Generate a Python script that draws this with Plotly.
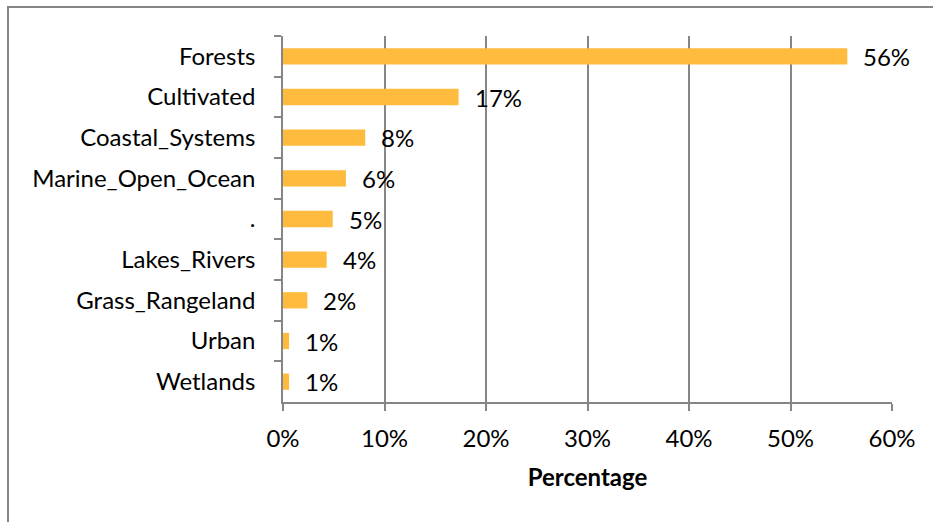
import plotly.graph_objects as go

# Share of total by ecosystem type (fractions)
categories = ["Forests", "Cultivated", "Coastal_Systems", "Marine_Open_Ocean", ".",
              "Lakes_Rivers", "Grass_Rangeland", "Urban", "Wetlands"]
shares = [0.556, 0.173, 0.081, 0.062, 0.049, 0.043, 0.024, 0.006, 0.006]
x_ticks = [0, 0.1, 0.2, 0.3, 0.4, 0.5, 0.6]

FONT = "Lato, Carlito, Calibri, sans-serif"
FS = 24
GRID = "#868686"
BAR = "#FFBB3D"

fig = go.Figure(go.Bar(
    x=shares, y=categories, orientation="h",
    marker=dict(color=BAR, line=dict(width=0)),
    width=0.4, hoverinfo="skip",
))

# value labels just right of each bar end
for cat, v in zip(categories, shares):
    fig.add_annotation(x=v, y=cat, xref="x", yref="y", text=f"{round(v * 100)}%",
                       showarrow=False, xanchor="left", yanchor="middle", xshift=14,
                       font=dict(family=FONT, size=FS, color="#000000"))

# outer chart frame
W, H = 933, 522
L, R, T, B = 283, 41, 36, 120
pw, ph = W - L - R, H - T - B
def px_x(p): return (p - L) / pw
def px_y(p): return (H - B - p) / ph
fig.add_shape(type="rect", xref="paper", yref="paper",
              x0=px_x(8), x1=px_x(960), y0=px_y(560), y1=px_y(7),
              line=dict(color=GRID, width=2), fillcolor="rgba(0,0,0,0)", layer="below")

fig.update_layout(
    width=W, height=H,
    margin=dict(l=L, r=R, t=T, b=B),
    paper_bgcolor="white", plot_bgcolor="white",
    font=dict(family=FONT, size=FS, color="#000000"),
    showlegend=False,
    xaxis=dict(
        range=[0, 0.6], tickvals=x_ticks, tickformat=".0%",
        showgrid=True, gridcolor=GRID, gridwidth=1.5,
        showline=True, linecolor=GRID, linewidth=1.5,
        ticks="outside", ticklen=7, tickcolor=GRID, tickwidth=1.5,
        ticklabelstandoff=7, zeroline=False,
        title=dict(text="<b>Percentage</b>", font=dict(family=FONT, size=FS), standoff=19),
        fixedrange=True,
    ),
    yaxis=dict(
        autorange="reversed", tickson="boundaries",
        showgrid=False, showline=True, linecolor=GRID, linewidth=1.5,
        ticks="outside", ticklen=7, tickcolor=GRID, tickwidth=1.5,
        ticklabelstandoff=21, fixedrange=True,
    ),
)

fig.write_html("out.html")
